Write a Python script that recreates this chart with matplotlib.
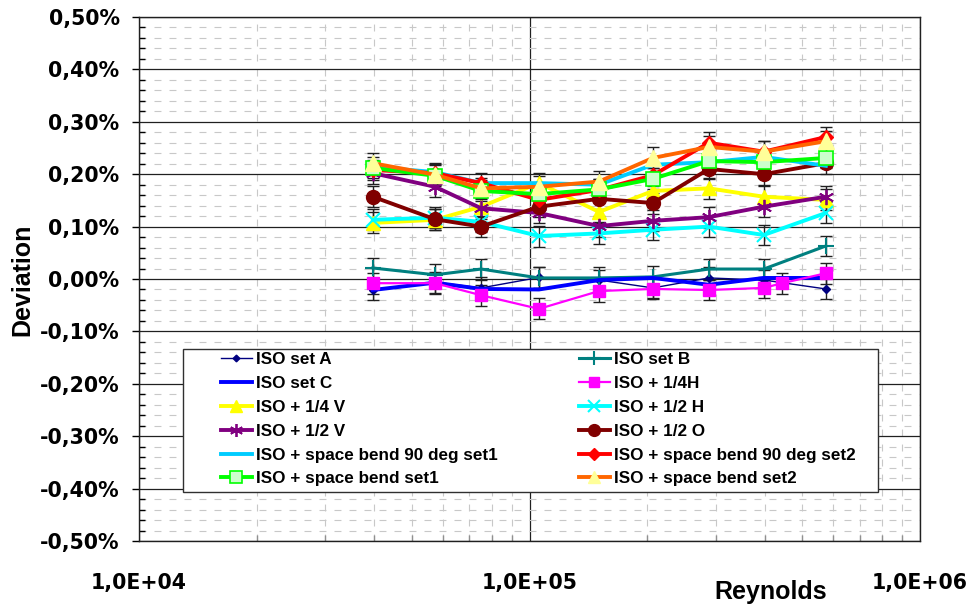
import matplotlib
matplotlib.use("Agg")
import matplotlib.pyplot as plt
from matplotlib.ticker import FixedLocator, FuncFormatter, LogLocator, NullFormatter
from matplotlib.patches import Rectangle

# Reynolds numbers of the test points
reynolds = [39700, 57300, 75200, 105700, 150700, 207000, 288000, 398000, 574000]
reynolds_h = [39700, 57300, 75200, 105700, 150700, 207000, 288000, 398000, 444000, 574000]

# Deviation in percent
iso_set_a = [-0.021, -0.006, -0.017, 0.003, -0.002, -0.017, 0.002, -0.002, -0.019]
iso_set_b = [0.021, 0.008, 0.019, 0.002, 0.002, 0.004, 0.019, 0.019, 0.063]
iso_set_c = [-0.021, -0.007, -0.019, -0.020, -0.002, 0.002, -0.011, 0.002, 0.002]
iso_q_h = [-0.008, -0.008, -0.031, -0.057, -0.023, -0.019, -0.021, -0.017, -0.008, 0.011]
iso_q_v = [0.107, 0.113, 0.138, 0.183, 0.128, 0.168, 0.173, 0.157, 0.151]
iso_h_h = [0.113, 0.117, 0.109, 0.082, 0.087, 0.094, 0.100, 0.084, 0.126]
iso_h_v = [0.202, 0.176, 0.135, 0.126, 0.101, 0.111, 0.118, 0.138, 0.157]
iso_h_o = [0.157, 0.114, 0.100, 0.138, 0.153, 0.145, 0.210, 0.200, 0.221]
bend90_set1 = [0.214, 0.204, 0.183, 0.183, 0.180, 0.218, 0.223, 0.233, 0.216]
bend90_set2 = [0.208, 0.202, 0.183, 0.151, 0.170, 0.198, 0.260, 0.243, 0.271]
bend_set1 = [0.212, 0.197, 0.168, 0.162, 0.171, 0.191, 0.225, 0.223, 0.231]
bend_set2 = [0.221, 0.199, 0.173, 0.176, 0.186, 0.231, 0.252, 0.243, 0.263]

uncertainty = 0.02  # +/- in percent

x_ticks = [1e4, 1e5, 1e6]
x_tick_labels = ["1,0E+04", "1,0E+05", "1,0E+06"]
y_ticks = [-0.5, -0.4, -0.3, -0.2, -0.1, 0.0, 0.1, 0.2, 0.3, 0.4, 0.5]

plt.rcParams["lines.scale_dashes"] = False

W, H = 971, 605
fig = plt.figure(figsize=(W / 100, H / 100), dpi=100)
ax = fig.add_axes([139 / W, 1 - 541 / H, (920 - 139) / W, (541 - 17) / H])
ax.set_xscale("log")
ax.set_xlim(1e4, 1e6)
ax.set_ylim(-0.5, 0.5)

# grid: dashed minor, solid major
ax.yaxis.set_minor_locator(FixedLocator([v / 100 for v in range(-50, 51, 2) if v % 10]))
ax.xaxis.set_minor_locator(LogLocator(base=10, subs=range(2, 10)))
ax.xaxis.set_minor_formatter(NullFormatter())
ax.grid(which="minor", color="#c8c8c8", lw=0.8, ls=(0, (5.0, 5.8)))
ax.grid(which="major", axis="y", color="#202020", lw=0.9)
ax.grid(which="major", axis="x", color="#202020", lw=0.9)
ax.set_axisbelow(True)
for s in ax.spines.values():
    s.set_color("#202020")
    s.set_linewidth(1.0)

ax.set_xticks(x_ticks)
ax.set_xticklabels(x_tick_labels)
ax.set_yticks(y_ticks)
ax.yaxis.set_major_formatter(FuncFormatter(lambda v, _: f"{v:.2f}%".replace(".", ",")))
tick_font = dict(family="DejaVu Sans", weight="bold", size=14.8)
for lab in ax.get_xticklabels() + ax.get_yticklabels():
    lab.set_fontproperties(tick_font)
ax.tick_params(axis="y", which="major", direction="out", length=5, width=1, pad=9)
ax.tick_params(axis="y", which="minor", direction="in", length=4.5, width=1)
ax.tick_params(axis="x", which="major", direction="out", length=0, pad=23)
ax.tick_params(axis="x", which="minor", direction="in", length=4.5, width=1, color="#909090")

series = [
    ("ISO set A", reynolds, iso_set_a, dict(color="#000080", lw=1.0, marker="D", ms=4)),
    ("ISO set B", reynolds, iso_set_b, dict(color="#008080", lw=2.2, marker="+", ms=12, mew=1.5)),
    ("ISO set C", reynolds, iso_set_c, dict(color="#0000ff", lw=2.8)),
    ("ISO + 1/4H", reynolds_h, iso_q_h, dict(color="#ff00ff", lw=1.6, marker="s", ms=8)),
    ("ISO + 1/4 V", reynolds, iso_q_v, dict(color="#ffff00", lw=2.8, marker="^", ms=10)),
    ("ISO + 1/2 H", reynolds, iso_h_h, dict(color="#00ffff", lw=2.8, marker="x", ms=10, mew=1.5)),
    ("ISO + 1/2 V", reynolds, iso_h_v, dict(color="#800080", lw=2.8, marker=(6, 2, 0), ms=11, mew=1.3)),
    ("ISO + 1/2 O", reynolds, iso_h_o, dict(color="#800000", lw=2.8, marker="o", ms=10)),
    ("ISO + space bend 90 deg set1", reynolds, bend90_set1, dict(color="#00ccff", lw=2.8)),
    ("ISO + space bend 90 deg set2", reynolds, bend90_set2, dict(color="#ff0000", lw=2.8, marker="D", ms=7)),
    ("ISO + space bend set1", reynolds, bend_set1, dict(color="#00ff00", lw=2.8, marker="s", ms=10,
                                                       mfc="#ccffcc", mec="#00ff00", mew=1.2)),
    ("ISO + space bend set2", reynolds, bend_set2, dict(color="#ff6600", lw=2.8, marker="^", ms=11,
                                                       mfc="#ffff99", mec="#ffff99")),
]

handles = {}
for name, xs, ys, style in series:
    if name not in ("ISO set C", "ISO + space bend 90 deg set1"):
        ax.errorbar(xs, ys, yerr=uncertainty, fmt="none", ecolor="#202020",
                    elinewidth=1.0, capsize=4, capthick=1.0, zorder=2.5)
    (ln,) = ax.plot(xs, ys, zorder=3, **style)
    handles[name] = ln

# legend frame
x0, y0 = ax.transAxes.inverted().transform(fig.transFigure.transform((183 / W, 1 - 492 / H)))
x1, y1 = ax.transAxes.inverted().transform(fig.transFigure.transform((878 / W, 1 - 349 / H)))
ax.add_patch(Rectangle((x0, y0), x1 - x0, y1 - y0, transform=ax.transAxes, facecolor="white",
                       edgecolor="#303030", lw=1.0, zorder=5))

names = [s[0] for s in series]
col1 = names[0::2]
col2 = names[1::2]
leg_font = dict(family="Liberation Sans", weight="bold", size=12.3)


def place_legend(cols, left_px):
    ax_x, ax_y = ax.transAxes.inverted().transform(fig.transFigure.transform((left_px / W, 1 - 352 / H)))
    leg = ax.legend([handles[n] for n in cols], cols, loc="upper left", bbox_to_anchor=(ax_x, ax_y),
                    frameon=False, borderpad=0, borderaxespad=0, handlelength=1.8,
                    handletextpad=0.25, labelspacing=0.52, numpoints=1, prop=leg_font,
                    markerscale=0.85)
    leg.set_zorder(6)
    return leg


leg1 = place_legend(col1, 221)
ax.add_artist(leg1)
place_legend(col2, 579)

fig.text(771 / W, 1 - 592 / H, "Reynolds", ha="center", va="center",
         family="Liberation Sans", weight="bold", size=18)
fig.text(22 / W, 1 - 280 / H, "Deviation", ha="center", va="center", rotation=90,
         family="Liberation Sans", weight="bold", size=18)

fig.savefig("out.png", dpi=100)
